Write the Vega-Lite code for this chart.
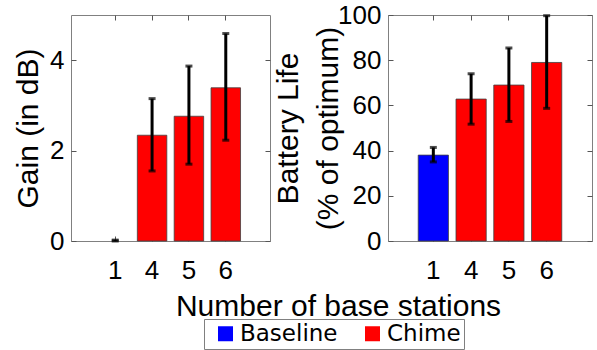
{
  "$schema": "https://vega.github.io/schema/vega-lite/v6.json",
  "padding": {"left": 13, "top": 1, "right": 3, "bottom": 1},
  "datasets": {
    "d": [
      {"stations": 1, "group": "Baseline", "gain": 0, "gain_lo": 0, "gain_hi": 0.02, "battery": 38.0, "bat_lo": 35.0, "bat_hi": 41.4},
      {"stations": 4, "group": "Chime", "gain": 2.34, "gain_lo": 1.55, "gain_hi": 3.15, "battery": 62.8, "bat_lo": 51.7, "bat_hi": 74.0},
      {"stations": 5, "group": "Chime", "gain": 2.76, "gain_lo": 1.70, "gain_hi": 3.87, "battery": 69.0, "bat_lo": 52.9, "bat_hi": 85.4},
      {"stations": 6, "group": "Chime", "gain": 3.39, "gain_lo": 2.23, "gain_hi": 4.59, "battery": 79.0, "bat_lo": 58.7, "bat_hi": 99.7}
    ]
  },
  "bounds": "flush",
  "spacing": 118,
  "hconcat": [
    {
      "width": 199, "height": 226,
      "data": {"name": "d"},
      "layer": [
        {
          "transform": [{"filter": "datum.gain > 0"}],
          "mark": {"type": "bar", "stroke": "#404040", "strokeWidth": 0.8},
          "encoding": {
            "x": {"field": "stations", "type": "ordinal", "scale": {"domain": [1, 4, 5, 6], "paddingInner": 0.2, "paddingOuter": 0.8}, "axis": {"title": "Number of base stations", "labelAngle": 0, "labelPadding": 21, "titleX": 267, "titlePadding": 8}},
            "y": {"field": "gain", "type": "quantitative", "scale": {"domain": [0, 5], "nice": false}, "axis": {"title": "Gain (in dB)", "values": [0, 2, 4], "titlePadding": 6}},
            "color": {"field": "group", "type": "nominal", "scale": {"domain": ["Baseline", "Chime"], "range": ["#0000ff", "#ff0000"]}, "legend": {"title": null, "orient": "none", "legendX": 133, "legendY": 304, "direction": "horizontal", "symbolType": "square", "symbolSize": 225, "symbolStrokeWidth": 0, "symbolOffset": 7, "labelFont": "DejaVu Sans", "labelFontSize": 23, "labelColor": "black", "labelExpr": "datum.label == 'Chime' ? 'Chime   ' : datum.label", "strokeColor": "#808080", "padding": 3, "columnPadding": 16, "labelOffset": 3}}
          }
        },
        {
          "mark": {"type": "rule", "color": "black", "strokeWidth": 3},
          "encoding": {
            "x": {"field": "stations", "type": "ordinal", "scale": {"domain": [1, 4, 5, 6], "paddingInner": 0.2, "paddingOuter": 0.8}, "axis": {"orient": "top", "labels": false, "title": null}},
            "y": {"field": "gain_lo", "type": "quantitative", "scale": {"domain": [0, 5], "nice": false}, "axis": {"orient": "right", "labels": false, "title": null, "values": [0, 2, 4]}},
            "y2": {"field": "gain_hi"}
          }
        },
        {
          "mark": {"type": "tick", "color": "black", "thickness": 3, "size": 7},
          "encoding": {
            "x": {"field": "stations", "type": "ordinal", "axis": null},
            "y": {"field": "gain_lo", "type": "quantitative", "axis": null}
          }
        },
        {
          "mark": {"type": "tick", "color": "black", "thickness": 3, "size": 7},
          "encoding": {
            "x": {"field": "stations", "type": "ordinal", "axis": null},
            "y": {"field": "gain_hi", "type": "quantitative", "axis": null}
          }
        }
      ],
      "resolve": {"axis": {"x": "independent", "y": "independent"}}
    },
    {
      "width": 204, "height": 226,
      "data": {"name": "d"},
      "layer": [
        {
          "mark": {"type": "bar", "stroke": "#404040", "strokeWidth": 0.8},
          "encoding": {
            "x": {"field": "stations", "type": "ordinal", "scale": {"domain": [1, 4, 5, 6], "paddingInner": 0.2, "paddingOuter": 0.8}, "axis": {"title": null, "labelAngle": 0, "labelPadding": 21}},
            "y": {"field": "battery", "type": "quantitative", "scale": {"domain": [0, 100], "nice": false}, "axis": {"title": ["Battery Life", "(% of optimum)"], "values": [0, 20, 40, 60, 80, 100], "titlePadding": -6, "titleLineHeight": 40}},
            "color": {"field": "group", "type": "nominal", "scale": {"domain": ["Baseline", "Chime"], "range": ["#0000ff", "#ff0000"]}}
          }
        },
        {
          "mark": {"type": "rule", "color": "black", "strokeWidth": 3},
          "encoding": {
            "x": {"field": "stations", "type": "ordinal", "scale": {"domain": [1, 4, 5, 6], "paddingInner": 0.2, "paddingOuter": 0.8}, "axis": {"orient": "top", "labels": false, "title": null}},
            "y": {"field": "bat_lo", "type": "quantitative", "scale": {"domain": [0, 100], "nice": false}, "axis": {"orient": "right", "labels": false, "title": null, "values": [0, 20, 40, 60, 80, 100]}},
            "y2": {"field": "bat_hi"}
          }
        },
        {
          "mark": {"type": "tick", "color": "black", "thickness": 3, "size": 7},
          "encoding": {
            "x": {"field": "stations", "type": "ordinal", "axis": null},
            "y": {"field": "bat_lo", "type": "quantitative", "axis": null}
          }
        },
        {
          "mark": {"type": "tick", "color": "black", "thickness": 3, "size": 7},
          "encoding": {
            "x": {"field": "stations", "type": "ordinal", "axis": null},
            "y": {"field": "bat_hi", "type": "quantitative", "axis": null}
          }
        }
      ],
      "resolve": {"axis": {"x": "independent", "y": "independent"}}
    }
  ],
  "config": {
    "view": {"stroke": "#808080", "strokeWidth": 1},
    "axis": {"domain": false, "grid": false, "ticks": true, "tickSize": -5, "tickColor": "#555555", "labelFont": "Liberation Sans", "labelFontSize": 26, "labelColor": "black", "labelPadding": 12, "titleFont": "Liberation Sans", "titleFontSize": 30, "titleFontWeight": "normal", "titleColor": "black"},
    "legend": {"padding": 3}
  }
}
